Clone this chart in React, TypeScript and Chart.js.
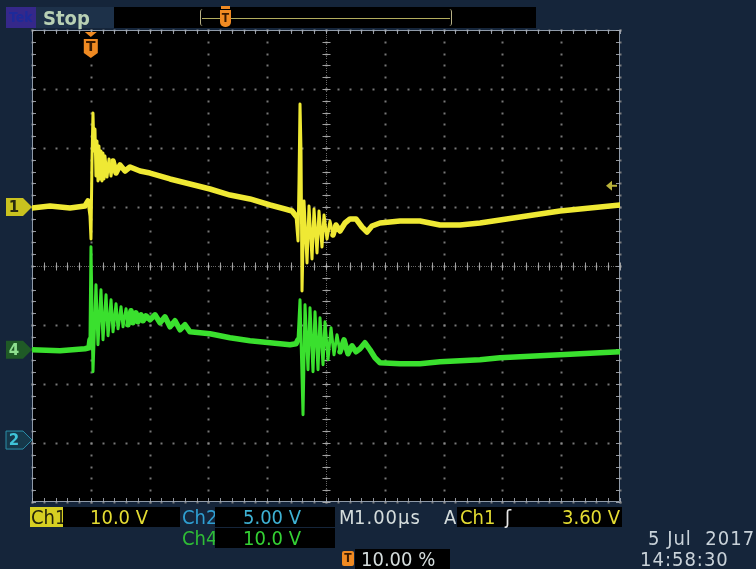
import React, { useEffect, useRef } from 'react';
import { Chart, registerables } from 'chart.js';

Chart.register(...registerables);

// ---- Oscilloscope capture data (time in µs relative to trigger, values in volts) ----
const ch1Time = [
  -1.0, -0.694, -0.354, -0.099, -0.048, -0.014, 0.003, 0.02, 0.037, 0.054, 0.071, 0.088, 0.105,
  0.122, 0.139, 0.156, 0.173, 0.19, 0.207, 0.224, 0.241, 0.276, 0.31, 0.344, 0.378, 0.429, 0.497,
  0.582, 0.667, 0.837, 1.007, 1.347, 1.687, 2.027, 2.367, 2.707, 3.048, 3.303, 3.422, 3.49, 3.524,
  3.541, 3.558, 3.575, 3.592, 3.626, 3.677, 3.711, 3.762, 3.796, 3.847, 3.881, 3.932, 3.966,
  4.017, 4.068, 4.119, 4.17, 4.238, 4.323, 4.408, 4.51, 4.612, 4.697, 4.782, 4.918, 5.259,
  5.599, 5.939, 6.279, 6.619, 6.959, 7.299, 7.639, 7.98, 8.32, 8.66, 9.0,
];
const ch1Volts = [
  -0.17, 0.17, -0.17, 0.17, 1.02, -1.53, -5.42, 7.8, 15.93, 9.49, 13.22, 5.25, 11.19,
  4.41, 10.34, 4.75, 9.49, 4.41, 9.15, 4.75, 8.64, 5.08, 8.14, 5.25, 7.8, 5.76, 7.12,
  6.1, 6.78, 6.1, 5.76, 4.75, 3.9, 3.05, 2.03, 1.36, 0.34, -0.34, -0.68, -1.53, -5.76,
  4.41, 17.46, 9.49, -14.24, 1.02, -9.49, 0.17, -8.81, -0.34, -7.8, -0.68, -6.78, -1.36,
  -5.42, -2.37, -4.75, -3.05, -4.07, -2.71, -2.03, -2.03, -3.39, -4.24, -3.22, -2.71, -2.37,
  -2.37, -3.05, -3.05, -2.71, -2.2, -1.69, -1.19, -0.68, -0.34, 0.0, 0.34,
];

const ch4Time = [
  -1.0, -0.524, -0.099, -0.031, -0.014, 0.003, 0.037, 0.088, 0.122, 0.173, 0.207, 0.259, 0.293,
  0.344, 0.378, 0.429, 0.463, 0.514, 0.548, 0.599, 0.633, 0.684, 0.718, 0.769, 0.803, 0.854,
  0.888, 0.939, 1.007, 1.092, 1.177, 1.262, 1.347, 1.432, 1.517, 1.602, 1.687, 2.027, 2.367,
  2.707, 3.048, 3.388, 3.49, 3.524, 3.558, 3.609, 3.643, 3.694, 3.728, 3.779, 3.813, 3.864,
  3.898, 3.949, 3.983, 4.034, 4.085, 4.136, 4.187, 4.238, 4.306, 4.374, 4.442, 4.51, 4.578,
  4.663, 4.748, 4.833, 4.918, 5.259, 5.599, 5.939, 6.279, 6.619, 6.959, 7.299, 7.639, 7.98,
  8.32, 8.66, 9.0,
];
const ch4Volts = [
  0.0, -0.17, 0.17, 0.34, 1.69, 17.46, -3.73, 11.02, 0.85, 10.17, 1.69, 9.32, 2.37,
  8.47, 3.05, 7.8, 3.56, 7.29, 3.9, 6.95, 4.24, 6.61, 4.58, 6.27, 4.75, 5.93,
  4.92, 5.76, 5.08, 5.93, 4.58, 5.59, 3.9, 4.92, 3.39, 4.24, 3.05, 2.71, 2.03,
  1.53, 1.19, 0.85, 1.02, 1.69, 8.47, -11.02, 7.63, -3.39, 7.12, -3.73, 6.44, -3.39,
  5.42, -2.54, 4.75, -1.69, 3.73, -0.85, 2.54, -0.34, 1.69, -0.68, 0.68, -0.34, 0.17,
  1.19, 0.0, -1.36, -2.2, -2.37, -2.37, -2.03, -1.86, -1.69, -1.36, -1.19, -1.02, -0.85,
  -0.68, -0.51, -0.34,
];

// channel settings (volts/div and ground position in divisions)
const CH1_VOLTS_PER_DIV = 10;
const CH4_VOLTS_PER_DIV = 10;
const CH1_POSITION = 1.0;
const CH4_POSITION = -1.42;
const CH2_POSITION = -2.95;
const TRIGGER_LEVEL = 3.6;
const TRIGGER_TIME = 0;

// graticule divisions
const X_DIVISIONS = [-1, 0, 1, 2, 3, 4, 5, 6, 7, 8, 9];
const Y_DIVISIONS = [-4, -3, -2, -1, 0, 1, 2, 3, 4];
const X_CENTER = 4;
const Y_CENTER = 0;

const YELLOW = '#efe934';
const GREEN = '#3ae02e';
const NAVY = '#15253a';

const graticulePlugin = {
  id: 'graticule',
  beforeDatasetsDraw(chart: any) {
    const { ctx, chartArea: a, scales } = chart;
    const xs = scales.x;
    const ys = scales.y;
    const xMin = X_DIVISIONS[0];
    const xMax = X_DIVISIONS[X_DIVISIONS.length - 1];
    const yMin = Y_DIVISIONS[0];
    const yMax = Y_DIVISIONS[Y_DIVISIONS.length - 1];
    ctx.save();
    ctx.fillStyle = '#000';
    ctx.fillRect(a.left, a.top, a.right - a.left, a.bottom - a.top);

    // dotted division lines
    ctx.fillStyle = 'rgba(140,140,140,0.85)';
    for (const dx of X_DIVISIONS) {
      const px = Math.round(xs.getPixelForValue(dx));
      for (let v = yMin; v <= yMax + 1e-6; v += 0.2) {
        const py = Math.round(ys.getPixelForValue(v));
        ctx.fillRect(px - 0.5, py - 0.5, 2, 2);
      }
    }
    for (const dy of Y_DIVISIONS) {
      const py = Math.round(ys.getPixelForValue(dy));
      for (let v = xMin; v <= xMax + 1e-6; v += 0.2) {
        const px = Math.round(xs.getPixelForValue(v));
        ctx.fillRect(px - 0.5, py - 0.5, 2, 2);
      }
    }

    // center cross with minor ticks
    const cx = Math.round(xs.getPixelForValue(X_CENTER)) + 0.5;
    const cy = Math.round(ys.getPixelForValue(Y_CENTER)) + 0.5;
    ctx.fillStyle = 'rgba(130,130,130,0.8)';
    for (let v = xMin; v <= xMax + 1e-6; v += 0.04) {
      ctx.fillRect(Math.round(xs.getPixelForValue(v)), cy - 0.5, 1, 1);
    }
    for (let v = yMin; v <= yMax + 1e-6; v += 0.04) {
      ctx.fillRect(cx - 0.5, Math.round(ys.getPixelForValue(v)), 1, 1);
    }
    ctx.strokeStyle = 'rgba(175,175,175,0.9)';
    ctx.lineWidth = 1;
    ctx.beginPath();
    for (let v = xMin; v <= xMax + 1e-6; v += 0.2) {
      const px = Math.round(xs.getPixelForValue(v)) + 0.5;
      ctx.moveTo(px, cy - 4);
      ctx.lineTo(px, cy + 4);
    }
    for (let v = yMin; v <= yMax + 1e-6; v += 0.2) {
      const py = Math.round(ys.getPixelForValue(v)) + 0.5;
      ctx.moveTo(cx - 4, py);
      ctx.lineTo(cx + 4, py);
    }
    ctx.stroke();

    // border with ticks
    ctx.strokeStyle = '#8f9aa8';
    ctx.beginPath();
    ctx.rect(a.left + 0.5, a.top + 0.5, a.right - a.left - 1, a.bottom - a.top - 1);
    ctx.stroke();
    ctx.strokeStyle = 'rgba(170,175,185,0.85)';
    ctx.beginPath();
    for (let v = xMin; v <= xMax + 1e-6; v += 0.2) {
      const px = Math.round(xs.getPixelForValue(v)) + 0.5;
      ctx.moveTo(px, a.top);
      ctx.lineTo(px, a.top + 4);
      ctx.moveTo(px, a.bottom);
      ctx.lineTo(px, a.bottom - 4);
    }
    for (let v = yMin; v <= yMax + 1e-6; v += 0.2) {
      const py = Math.round(ys.getPixelForValue(v)) + 0.5;
      ctx.moveTo(a.left, py);
      ctx.lineTo(a.left + 4, py);
      ctx.moveTo(a.right, py);
      ctx.lineTo(a.right - 4, py);
    }
    ctx.stroke();
    ctx.restore();
  },
  afterDraw(chart: any) {
    const { ctx, chartArea: a, scales } = chart;
    const xs = scales.x;
    const ys = scales.y;
    ctx.save();
    // channel ground markers on the left
    const marker = (pos: number, label: string, fill: string, text: string, stroke?: string) => {
      const cy = ys.getPixelForValue(pos);
      ctx.beginPath();
      ctx.moveTo(6, cy - 9);
      ctx.lineTo(23, cy - 9);
      ctx.lineTo(a.left, cy);
      ctx.lineTo(23, cy + 9);
      ctx.lineTo(6, cy + 9);
      ctx.closePath();
      ctx.fillStyle = fill;
      ctx.fill();
      if (stroke) {
        ctx.strokeStyle = stroke;
        ctx.lineWidth = 1;
        ctx.stroke();
      }
      ctx.fillStyle = text;
      ctx.font = 'bold 15px "DejaVu Sans", sans-serif';
      ctx.textAlign = 'center';
      ctx.textBaseline = 'middle';
      ctx.fillText(label, 14, cy + 1);
    };
    marker(CH1_POSITION, '1', '#c9c21f', '#2a2a10');
    marker(CH4_POSITION, '4', '#1f5a26', '#8fe08f');
    marker(CH2_POSITION, '2', '#16384a', '#3fc4d8', '#2a8ea8');

    // trigger position marker at the top
    const tx = xs.getPixelForValue(TRIGGER_TIME);
    ctx.fillStyle = '#f08a22';
    ctx.beginPath();
    ctx.moveTo(tx - 6, a.top + 2);
    ctx.lineTo(tx + 6, a.top + 2);
    ctx.lineTo(tx, a.top + 7);
    ctx.closePath();
    ctx.fill();
    ctx.beginPath();
    ctx.moveTo(tx - 7, a.top + 9);
    ctx.lineTo(tx + 7, a.top + 9);
    ctx.lineTo(tx + 7, a.top + 23);
    ctx.lineTo(tx, a.top + 28);
    ctx.lineTo(tx - 7, a.top + 23);
    ctx.closePath();
    ctx.fill();
    ctx.fillStyle = '#3a1a00';
    ctx.font = 'bold 14px "DejaVu Sans", sans-serif';
    ctx.textAlign = 'center';
    ctx.textBaseline = 'middle';
    ctx.fillText('T', tx, a.top + 17);

    // trigger level arrow on the right
    const ly = ys.getPixelForValue(CH1_POSITION + TRIGGER_LEVEL / CH1_VOLTS_PER_DIV);
    ctx.fillStyle = '#b9b23a';
    ctx.beginPath();
    ctx.moveTo(a.right - 14, ly);
    ctx.lineTo(a.right - 8, ly - 5);
    ctx.lineTo(a.right - 8, ly + 5);
    ctx.closePath();
    ctx.fill();
    ctx.fillRect(a.right - 8, ly - 1, 5, 2);
    ctx.restore();
  },
};

const toPoints = (times: number[], volts: number[], vdiv: number, pos: number) =>
  times.map((t, i) => ({ x: t, y: volts[i] / vdiv + pos }));

// thinner strokes for the fast ringing edges, thick noisy band elsewhere
const segWidth = (c: any) => (Math.abs(c.p1.y - c.p0.y) > 14 ? 3 : 5.5);

const cond = '"DejaVu Sans Condensed", "Liberation Sans Narrow", "DejaVu Sans", sans-serif';

const box = (left: number, top: number, width: number, bg: string, height = 20): React.CSSProperties => ({
  position: 'absolute',
  left,
  top,
  width,
  height,
  background: bg,
});

const txt = (left: number, top: number, color: string, size = 20): React.CSSProperties => ({
  position: 'absolute',
  left,
  top,
  color,
  fontFamily: cond,
  fontSize: size,
  lineHeight: '20px',
  whiteSpace: 'pre',
});

export default function App() {
  const canvasRef = useRef<HTMLCanvasElement | null>(null);

  useEffect(() => {
    const canvas = canvasRef.current;
    if (!canvas) return;
    const chart = new Chart(canvas, {
      type: 'line',
      data: {
        datasets: [
          {
            label: 'Ch1',
            data: toPoints(ch1Time, ch1Volts, CH1_VOLTS_PER_DIV, CH1_POSITION),
            borderColor: YELLOW,
            borderWidth: 5.5,
            borderCapStyle: 'round',
            borderJoinStyle: 'round',
            segment: { borderWidth: segWidth },
            pointRadius: 0,
            tension: 0,
          },
          {
            label: 'Ch4',
            data: toPoints(ch4Time, ch4Volts, CH4_VOLTS_PER_DIV, CH4_POSITION),
            borderColor: GREEN,
            borderWidth: 5.5,
            borderCapStyle: 'round',
            borderJoinStyle: 'round',
            segment: { borderWidth: segWidth },
            pointRadius: 0,
            tension: 0,
          },
        ],
      },
      options: {
        animation: false,
        responsive: false,
        devicePixelRatio: 1,
        layout: { padding: { left: 32, top: 30, right: 136, bottom: 67 } },
        scales: {
          x: { type: 'linear', min: X_DIVISIONS[0], max: X_DIVISIONS[X_DIVISIONS.length - 1], display: false },
          y: { type: 'linear', min: Y_DIVISIONS[0], max: Y_DIVISIONS[Y_DIVISIONS.length - 1], display: false },
        },
        plugins: { legend: { display: false }, tooltip: { enabled: false } },
      },
      plugins: [graticulePlugin],
    });
    return () => chart.destroy();
  }, []);

  return (
    <div style={{ position: 'absolute', left: 0, top: 0, width: 756, height: 569, background: NAVY, overflow: 'hidden' }}>
      <canvas ref={canvasRef} width={756} height={569} style={{ position: 'absolute', left: 0, top: 0 }} />

      {/* top status strip */}
      <div style={box(6, 7, 30, '#35288a', 21)} />
      <div style={{ ...txt(9, 7, '#1d2a9a', 14), fontWeight: 'bold' }}>Tek</div>
      <div style={box(36, 7, 78, '#1d3149', 21)} />
      <div style={{ ...txt(43, 8, '#b8d0b4', 20), fontWeight: 'bold' }}>Stop</div>
      <div style={box(114, 7, 422, '#000', 21)} />
      <div style={{ position: 'absolute', left: 200, top: 9, width: 252, height: 17, border: '1px solid #b8b286', borderRadius: 3, boxSizing: 'border-box', borderTop: 'none', borderBottom: 'none' }} />
      <div style={box(202, 18, 248, '#b3ad5e', 1)} />
      <div style={box(221, 6, 9, '#f08a22', 3)} />
      <div style={{ position: 'absolute', left: 220, top: 10, width: 11, height: 17, background: '#f08a22', borderRadius: '0 0 5px 5px', color: '#3a1a00', fontSize: 12, fontWeight: 'bold', fontFamily: cond, textAlign: 'center', lineHeight: '17px' }}>T</div>

      {/* bottom status: row 1 */}
      <div style={box(30, 507, 33, '#d6cf22')} />
      <div style={txt(31, 507, '#23230a')}>Ch1</div>
      <div style={box(63, 507, 117, '#000')} />
      <div style={txt(90, 507, '#e4dc32')}>10.0 V</div>
      <div style={txt(182, 507, '#2f9fd2')}>Ch2</div>
      <div style={box(215, 507, 120, '#000')} />
      <div style={txt(243, 507, '#3eb2d4')}>5.00 V</div>
      <div style={txt(339, 507, '#d4dcdc')}>M</div>
      <div style={{ ...txt(354, 507, '#d4dcdc'), letterSpacing: 1 }}>1.00µs</div>
      <div style={txt(444, 507, '#d4dcdc')}>A</div>
      <div style={box(457, 507, 165, '#000')} />
      <div style={txt(460, 507, '#e4dc32')}>Ch1</div>
      <div style={txt(505, 507, '#e8e8e8')}>ʃ</div>
      <div style={txt(562, 507, '#e4dc32')}>3.60 V</div>

      {/* row 2 */}
      <div style={txt(182, 528, '#2fbe36')}>Ch4</div>
      <div style={box(215, 528, 120, '#000')} />
      <div style={txt(243, 528, '#34d234')}>10.0 V</div>

      {/* row 3 */}
      <div style={{ position: 'absolute', left: 342, top: 551, width: 12, height: 15, background: '#f08a22', color: '#3a1a00', fontSize: 12, fontWeight: 'bold', fontFamily: cond, textAlign: 'center', lineHeight: '15px', borderRadius: 2 }}>T</div>
      <div style={box(355, 549, 95, '#000')} />
      <div style={txt(361, 549, '#d4dcdc')}>10.00 %</div>

      {/* date / time */}
      <div style={{ ...txt(648, 528, '#c9d2d9'), letterSpacing: 1 }}>5 Jul  2017</div>
      <div style={{ ...txt(640, 549, '#c9d2d9'), letterSpacing: 1 }}>14:58:30</div>
    </div>
  );
}
